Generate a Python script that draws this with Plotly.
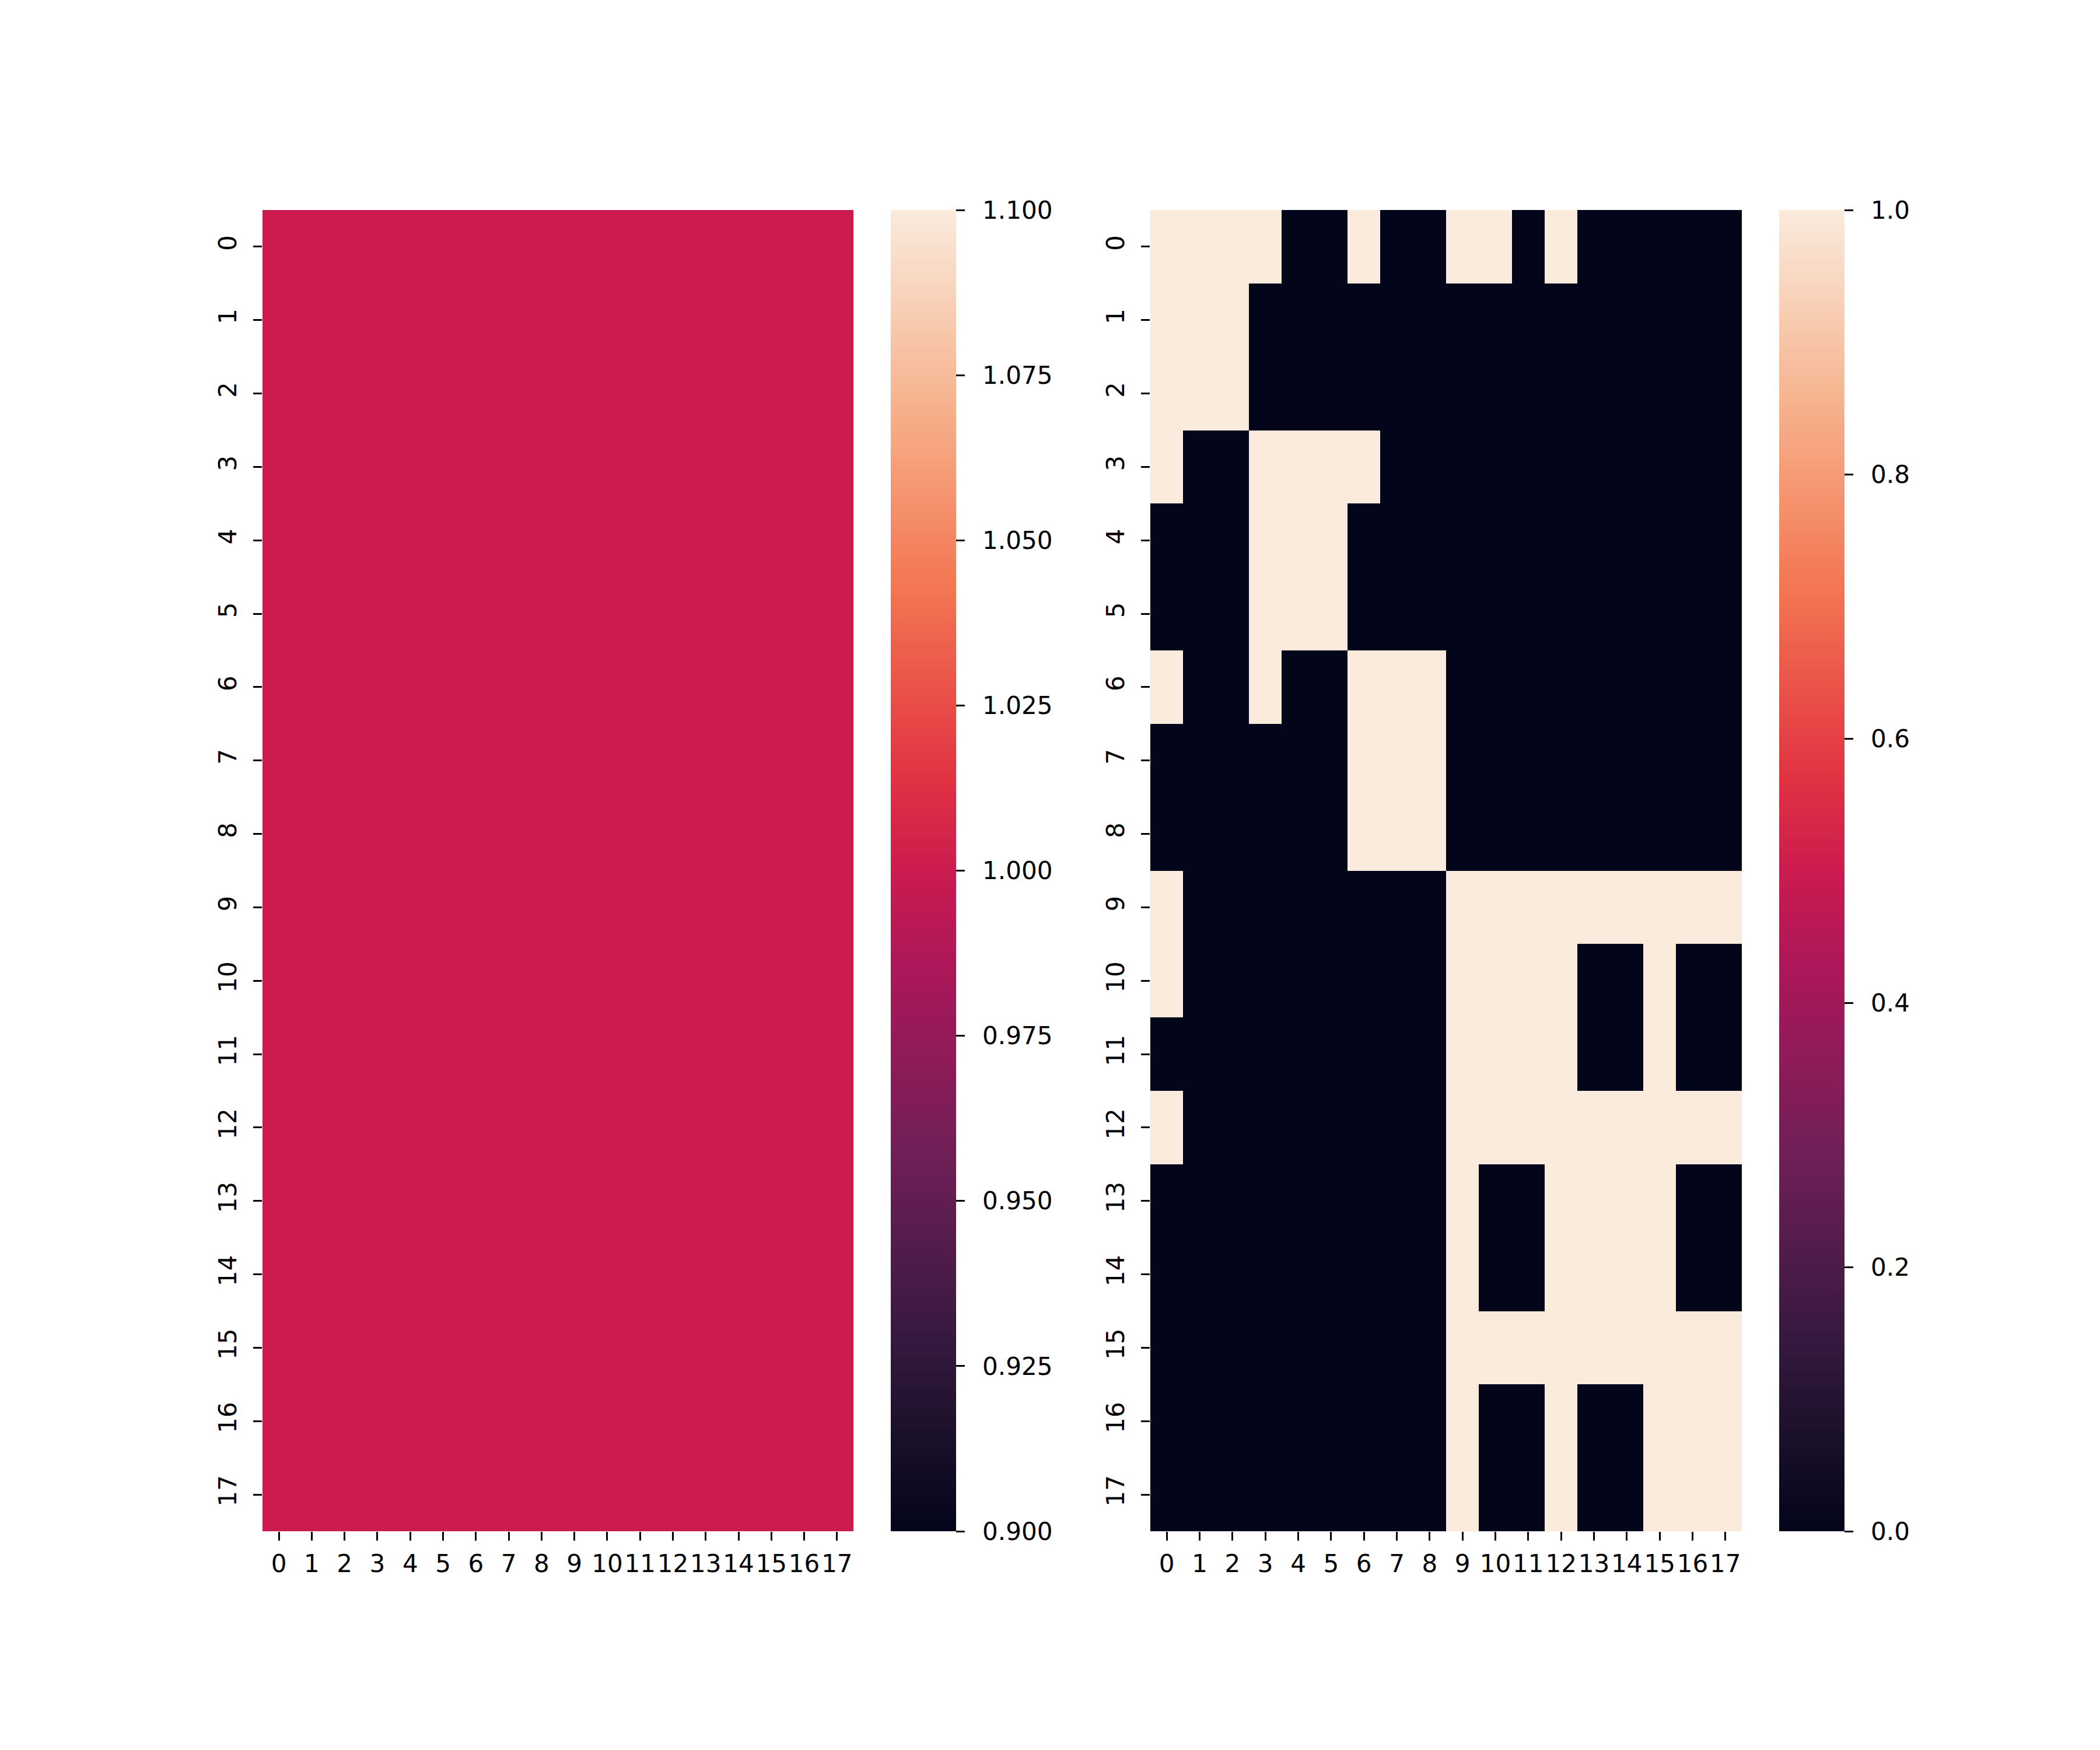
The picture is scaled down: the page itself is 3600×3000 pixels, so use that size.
import plotly.graph_objects as go

# ---------------- data ----------------
row_labels = ["0", "1", "2", "3", "4", "5", "6", "7", "8", "9",
              "10", "11", "12", "13", "14", "15", "16", "17"]
col_labels = ["0", "1", "2", "3", "4", "5", "6", "7", "8", "9",
              "10", "11", "12", "13", "14", "15", "16", "17"]
positions = [0, 1, 2, 3, 4, 5, 6, 7, 8, 9, 10, 11, 12, 13, 14, 15, 16, 17]

left_matrix = [
    [1, 1, 1, 1, 1, 1, 1, 1, 1, 1, 1, 1, 1, 1, 1, 1, 1, 1],
    [1, 1, 1, 1, 1, 1, 1, 1, 1, 1, 1, 1, 1, 1, 1, 1, 1, 1],
    [1, 1, 1, 1, 1, 1, 1, 1, 1, 1, 1, 1, 1, 1, 1, 1, 1, 1],
    [1, 1, 1, 1, 1, 1, 1, 1, 1, 1, 1, 1, 1, 1, 1, 1, 1, 1],
    [1, 1, 1, 1, 1, 1, 1, 1, 1, 1, 1, 1, 1, 1, 1, 1, 1, 1],
    [1, 1, 1, 1, 1, 1, 1, 1, 1, 1, 1, 1, 1, 1, 1, 1, 1, 1],
    [1, 1, 1, 1, 1, 1, 1, 1, 1, 1, 1, 1, 1, 1, 1, 1, 1, 1],
    [1, 1, 1, 1, 1, 1, 1, 1, 1, 1, 1, 1, 1, 1, 1, 1, 1, 1],
    [1, 1, 1, 1, 1, 1, 1, 1, 1, 1, 1, 1, 1, 1, 1, 1, 1, 1],
    [1, 1, 1, 1, 1, 1, 1, 1, 1, 1, 1, 1, 1, 1, 1, 1, 1, 1],
    [1, 1, 1, 1, 1, 1, 1, 1, 1, 1, 1, 1, 1, 1, 1, 1, 1, 1],
    [1, 1, 1, 1, 1, 1, 1, 1, 1, 1, 1, 1, 1, 1, 1, 1, 1, 1],
    [1, 1, 1, 1, 1, 1, 1, 1, 1, 1, 1, 1, 1, 1, 1, 1, 1, 1],
    [1, 1, 1, 1, 1, 1, 1, 1, 1, 1, 1, 1, 1, 1, 1, 1, 1, 1],
    [1, 1, 1, 1, 1, 1, 1, 1, 1, 1, 1, 1, 1, 1, 1, 1, 1, 1],
    [1, 1, 1, 1, 1, 1, 1, 1, 1, 1, 1, 1, 1, 1, 1, 1, 1, 1],
    [1, 1, 1, 1, 1, 1, 1, 1, 1, 1, 1, 1, 1, 1, 1, 1, 1, 1],
    [1, 1, 1, 1, 1, 1, 1, 1, 1, 1, 1, 1, 1, 1, 1, 1, 1, 1],
]

right_matrix = [
    [1, 1, 1, 1, 0, 0, 1, 0, 0, 1, 1, 0, 1, 0, 0, 0, 0, 0],
    [1, 1, 1, 0, 0, 0, 0, 0, 0, 0, 0, 0, 0, 0, 0, 0, 0, 0],
    [1, 1, 1, 0, 0, 0, 0, 0, 0, 0, 0, 0, 0, 0, 0, 0, 0, 0],
    [1, 0, 0, 1, 1, 1, 1, 0, 0, 0, 0, 0, 0, 0, 0, 0, 0, 0],
    [0, 0, 0, 1, 1, 1, 0, 0, 0, 0, 0, 0, 0, 0, 0, 0, 0, 0],
    [0, 0, 0, 1, 1, 1, 0, 0, 0, 0, 0, 0, 0, 0, 0, 0, 0, 0],
    [1, 0, 0, 1, 0, 0, 1, 1, 1, 0, 0, 0, 0, 0, 0, 0, 0, 0],
    [0, 0, 0, 0, 0, 0, 1, 1, 1, 0, 0, 0, 0, 0, 0, 0, 0, 0],
    [0, 0, 0, 0, 0, 0, 1, 1, 1, 0, 0, 0, 0, 0, 0, 0, 0, 0],
    [1, 0, 0, 0, 0, 0, 0, 0, 0, 1, 1, 1, 1, 1, 1, 1, 1, 1],
    [1, 0, 0, 0, 0, 0, 0, 0, 0, 1, 1, 1, 1, 0, 0, 1, 0, 0],
    [0, 0, 0, 0, 0, 0, 0, 0, 0, 1, 1, 1, 1, 0, 0, 1, 0, 0],
    [1, 0, 0, 0, 0, 0, 0, 0, 0, 1, 1, 1, 1, 1, 1, 1, 1, 1],
    [0, 0, 0, 0, 0, 0, 0, 0, 0, 1, 0, 0, 1, 1, 1, 1, 0, 0],
    [0, 0, 0, 0, 0, 0, 0, 0, 0, 1, 0, 0, 1, 1, 1, 1, 0, 0],
    [0, 0, 0, 0, 0, 0, 0, 0, 0, 1, 1, 1, 1, 1, 1, 1, 1, 1],
    [0, 0, 0, 0, 0, 0, 0, 0, 0, 1, 0, 0, 1, 0, 0, 1, 1, 1],
    [0, 0, 0, 0, 0, 0, 0, 0, 0, 1, 0, 0, 1, 0, 0, 1, 1, 1],
]

left_cbar_ticks = [0.900, 0.925, 0.950, 0.975, 1.000, 1.025, 1.050, 1.075, 1.100]
left_cbar_text = ["0.900", "0.925", "0.950", "0.975", "1.000", "1.025", "1.050", "1.075", "1.100"]
right_cbar_ticks = [0.0, 0.2, 0.4, 0.6, 0.8, 1.0]
right_cbar_text = ["0.0", "0.2", "0.4", "0.6", "0.8", "1.0"]

# ---------------- style ----------------
W, H = 3600, 3000
OFF = 8  # page body margin offset
FONT = "DejaVu Sans"
FS = 42
TICKLEN = 15
TICKW = 3.3
CBAR_GAP = "\u2004\u2009"  # small gap between colorbar ticks and labels

rocket = [
    [0.0, "#03051a"],
    [0.07, "#1a1029"],
    [0.143, "#35193e"],
    [0.286, "#701f57"],
    [0.429, "#ad1759"],
    [0.5, "#cb1b4f"],
    [0.571, "#e13342"],
    [0.714, "#f37651"],
    [0.857, "#f6b48f"],
    [1.0, "#faebdd"],
]

top_px, bot_px = 360 - OFF, 2625 - OFF
y_dom = [1 - bot_px / H, 1 - top_px / H]
left_x = [(450 - OFF) / W, (1463 - OFF) / W]
right_x = [(1972 - OFF) / W, (2986 - OFF) / W]


def cbar(x_px, tickvals, ticktext):
    return dict(
        x=(x_px - OFF) / W, xanchor="left", xpad=0, xref="paper",
        y=y_dom[0], yanchor="bottom", ypad=0, yref="paper",
        len=(bot_px - top_px) / H, lenmode="fraction",
        thickness=112, thicknessmode="pixels",
        outlinewidth=0,
        ticks="outside", ticklen=TICKLEN, tickwidth=TICKW, tickcolor="black",
        tickmode="array", tickvals=tickvals,
        ticktext=[CBAR_GAP + t for t in ticktext],
        tickfont=dict(family=FONT, size=FS, color="black"),
    )


fig = go.Figure()
fig.add_trace(go.Heatmap(
    z=left_matrix, x=positions, y=positions,
    colorscale=rocket, zmin=0.9, zmax=1.1,
    colorbar=cbar(1527, left_cbar_ticks, left_cbar_text),
    xaxis="x", yaxis="y", hoverinfo="skip",
))
fig.add_trace(go.Heatmap(
    z=right_matrix, x=positions, y=positions,
    colorscale=rocket, zmin=0, zmax=1,
    colorbar=cbar(3050, right_cbar_ticks, right_cbar_text),
    xaxis="x2", yaxis="y2", hoverinfo="skip",
))

def xax(dom, anchor):
    return dict(
        domain=dom, anchor=anchor, range=[-0.5, 17.5],
        tickmode="array", tickvals=positions, ticktext=col_labels,
        ticks="outside", ticklen=TICKLEN, tickwidth=TICKW, tickcolor="black",
        tickangle=0, ticklabelstandoff=4,
        tickfont=dict(family=FONT, size=FS, color="black"),
        showgrid=False, zeroline=False, showline=False,
    )

def yax(anchor):
    return dict(
        domain=y_dom, anchor=anchor, range=[17.5, -0.5],
        tickmode="array", tickvals=positions, ticktext=row_labels,
        ticks="outside", ticklen=TICKLEN, tickwidth=TICKW, tickcolor="black",
        tickangle=-90, ticklabelstandoff=12,
        tickfont=dict(family=FONT, size=FS, color="black"),
        showgrid=False, zeroline=False, showline=False,
    )

fig.update_layout(
    width=W, height=H, autosize=False,
    margin=dict(l=0, r=0, t=0, b=0, pad=0),
    paper_bgcolor="white", plot_bgcolor="white",
    font=dict(family=FONT, size=FS, color="black"),
    xaxis=xax(left_x, "y"), yaxis=yax("x"),
    xaxis2=xax(right_x, "y2"), yaxis2=yax("x2"),
    showlegend=False,
)

fig.write_html("out.html")
